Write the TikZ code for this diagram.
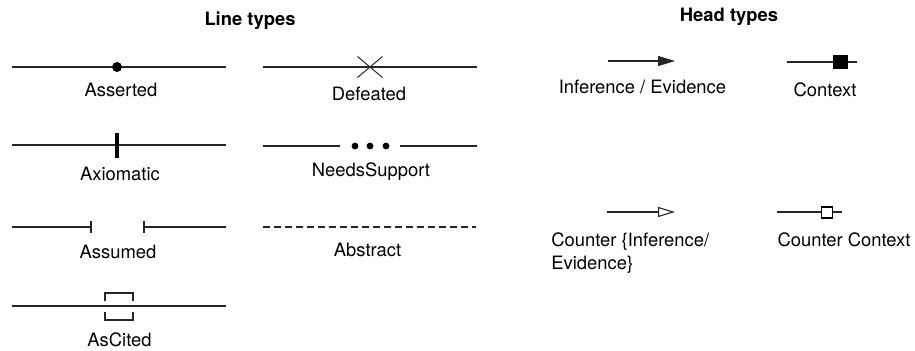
\documentclass[tikz,border=0pt]{standalone}
\usepackage{fontspec}
\setmainfont{TeX Gyre Heros}
\usetikzlibrary{arrows.meta,shapes.misc}
\tikzset{
  arg line/.style={draw=black!85, line width=0.55pt},
  type label/.style={anchor=base, inner sep=0pt,
    font=\fontsize{9.2}{11.5}\selectfont},
  section title/.style={type label,
    font=\fontsize{9.2}{11.5}\selectfont\bfseries},
  asserted dot/.style={circle, fill=black, inner sep=0pt, minimum size=5pt},
  support dot/.style={circle, fill=black, inner sep=0pt, minimum size=3.4pt},
  defeat mark/.style={cross out, draw=black!85, line width=0.5pt,
    inner sep=0pt, minimum width=12pt, minimum height=10pt},
  ctx box/.style={rectangle, draw=black, line width=0.55pt, inner sep=0pt},
}

\begin{document}
\begin{tikzpicture}[x=0.5pt, y=-0.5pt]
  \useasboundingbox (0,0) rectangle (915,350);

  \node[section title] (linetitle) at (250,25) {Line types};
  \node[section title] (headtitle) at (729,21) {Head types};

  % line types, left column
  \coordinate (as1) at (12,67);
  \coordinate (as2) at (226,67);
  \draw[arg line] (as1) -- (as2);
  \node[asserted dot] (asdot) at (117,67) {};
  \node[type label] (aslabel) at (121,96) {Asserted};

  \coordinate (ax1) at (12,145);
  \coordinate (ax2) at (226,145);
  \coordinate (axtop) at (117,133);
  \coordinate (axbot) at (117,158);
  \draw[arg line] (ax1) -- (ax2);
  \draw[black, line width=1.6pt] (axtop) -- (axbot);
  \node[type label] (axlabel) at (120,180) {Axiomatic};

  \coordinate (au1) at (12,227);
  \coordinate (au2) at (91,227);
  \coordinate (au3) at (144,227);
  \coordinate (au4) at (226,227);
  \draw[arg line] (au1) -- (au2) ++(0,-6) -- ++(0,12);
  \draw[arg line] (au4) -- (au3) ++(0,-6) -- ++(0,12);
  \node[type label] (aulabel) at (118,258) {Assumed};

  \coordinate (ac1) at (12,306);
  \coordinate (ac2) at (226,306);
  \coordinate (actop) at (105,301);
  \coordinate (acbot) at (105,312);
  \draw[arg line] (ac1) -- (ac2);
  \draw[arg line] (actop) -- ++(0,-8) -- ++(28,0) -- ++(0,8);
  \draw[arg line] (acbot) -- ++(0,8) -- ++(28,0) -- ++(0,-8);
  \node[type label] (aclabel) at (119.5,346) {AsCited};

  % line types, right column
  \coordinate (df1) at (263,67);
  \coordinate (df2) at (477,67);
  \draw[arg line] (df1) -- (df2);
  \node[defeat mark] (dfmark) at (370,67) {};
  \node[type label] (dflabel) at (369,100) {Defeated};

  \coordinate (ns1) at (263,146);
  \coordinate (ns2) at (340,146);
  \coordinate (ns3) at (400,146);
  \coordinate (ns4) at (477,146);
  \draw[arg line] (ns1) -- (ns2);
  \draw[arg line] (ns3) -- (ns4);
  \foreach \i/\x in {1/355,2/370,3/386}
    \node[support dot] (nsdot\i) at (\x,146) {};
  \node[type label] (nslabel) at (371,176) {NeedsSupport};

  \coordinate (ab1) at (263,227);
  \coordinate (ab2) at (476,227);
  \draw[arg line, dash pattern=on 3.5pt off 2pt] (ab1) -- (ab2);
  \node[type label] (ablabel) at (367.5,256) {Abstract};

  % head types
  \coordinate (ie1) at (608,61);
  \coordinate (ie2) at (675,61);
  \draw[arg line, -{Triangle[length=8.5pt, width=5pt]}] (ie1) -- (ie2);
  \node[type label] (ielabel) at (642.5,93) {Inference / Evidence};

  \coordinate (cx1) at (787,62);
  \coordinate (cx2) at (857,62);
  \draw[arg line] (cx1) -- (cx2);
  \node[ctx box, fill=black, minimum width=6.5pt, minimum height=6pt]
    (cxbox) at (840.5,62) {};
  \node[type label] (cxlabel) at (825,96) {Context};

  \coordinate (ci1) at (607,212);
  \coordinate (ci2) at (675,212);
  \draw[arg line, -{Triangle[open, length=8.5pt, width=5pt]}] (ci1) -- (ci2);
  \node[type label, anchor=base west, align=left] (cilabel) at (551,269)
    {Counter \{Inference/\\Evidence\}};

  \coordinate (cc1) at (777,212);
  \coordinate (cc2) at (842,212);
  \draw[arg line] (cc1) -- (cc2);
  \node[ctx box, fill=white, minimum size=5.5pt] (ccbox) at (827,212.5) {};
  \node[type label] (cclabel) at (844,246) {Counter Context};
\end{tikzpicture}
\end{document}
